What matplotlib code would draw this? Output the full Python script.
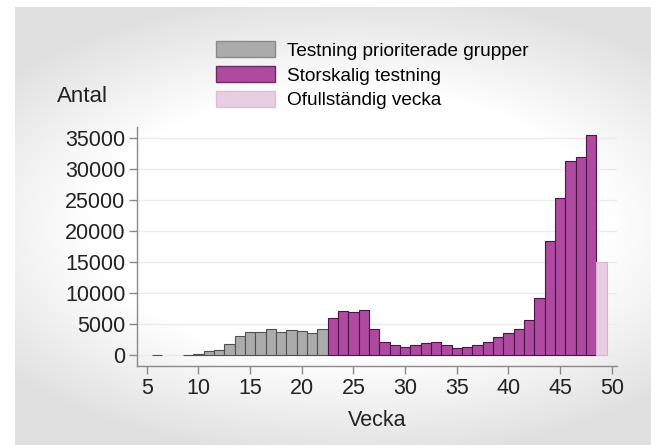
import numpy as np
import matplotlib.pyplot as plt
from matplotlib.patches import Patch

plt.rcParams['font.family'] = ['Liberation Sans', 'DejaVu Sans']

# Data (weeks 7-8 have no bar)
weeks_prio = [6, 9, 10, 11, 12, 13, 14, 15, 16, 17, 18, 19, 20, 21, 22]
cases_prio = [50, 60, 180, 700, 800, 1850, 3100, 3650, 3650, 4130, 3760, 4030, 3820, 3550, 4190]

weeks_large = list(range(23, 49))
cases_large = [5910, 7040, 6940, 7310, 4200, 2150, 1560, 1290, 1560, 1990, 2040, 1610, 1130,
               1290, 1560, 2040, 2900, 3550, 4250, 5590, 9140, 18390, 25320, 31340, 31880, 35430]

weeks_incomplete = [49]
cases_incomplete = [15000]

labels = ['Testning prioriterade grupper', 'Storskalig testning', 'Ofullständig vecka']
y_ticks = list(range(0, 35001, 5000))
x_ticks = list(range(5, 51, 5))

W, H = 651, 445
fig = plt.figure(figsize=(W / 100, H / 100), dpi=100)

# screenshot-like background: light grey vignette with white margin strips
bg = fig.add_axes([0, 0, 1, 1], zorder=-5)
yy, xx = np.mgrid[0:H, 0:W]
d = np.sqrt(((xx - 350) / 430.0) ** 2 + ((yy - 225) / 225.0) ** 2)
shade = 1.0 - 0.11 * np.clip(d - 0.6, 0, None) / 0.4
shade = np.clip(shade, 0.88, 1.0)
shade[:7, :] = 1.0
shade[:, :15] = 1.0
bg.imshow(np.dstack([shade] * 3), aspect='auto', extent=(0, 1, 0, 1))
bg.axis('off')

ax = fig.add_axes([136.7 / W, 1 - 365.7 / H, (617 - 136.7) / W, (365.7 - 126.7) / H])
ax.set_facecolor('none')

ax.bar(weeks_prio, cases_prio, width=1.0, color='#ababab', edgecolor='#505050', linewidth=0.8, zorder=3)
ax.bar(weeks_large, cases_large, width=1.0, color='#ae4ba0', edgecolor='#4c1446', linewidth=0.8, zorder=3)
ax.bar(weeks_incomplete, cases_incomplete, width=1.0, color='#e9cde3', edgecolor='#d8b6d0', linewidth=0.8, zorder=3)

ax.set_xlim(4.03, 50.5)
ax.set_ylim(-1730, 36820)
ax.set_yticks(y_ticks)
ax.set_yticklabels([str(v) for v in y_ticks])
ax.set_xticks(x_ticks)
ax.grid(axis='y', color='#ebebeb', linewidth=1.0, zorder=0)

for s in ['top', 'right']:
    ax.spines[s].set_visible(False)
for s in ['left', 'bottom']:
    ax.spines[s].set_color('#8a8a8a')
    ax.spines[s].set_linewidth(1.0)
ax.tick_params(axis='both', colors='#8a8a8a', labelcolor='#222222', labelsize=15.5, length=6, width=1.0)
ax.tick_params(axis='y', pad=2)
ax.tick_params(axis='x', pad=3)

fig.text(57 / W, 1 - 96 / H, 'Antal', fontsize=16, color='#222222', ha='left', va='center')
fig.text(377 / W, 1 - 420 / H, 'Vecka', fontsize=15.5, color='#222222', ha='center', va='center')

handles = [Patch(facecolor='#ababab', edgecolor='#8a8a8a'),
           Patch(facecolor='#ae4ba0', edgecolor='#6a2a60'),
           Patch(facecolor='#e9cde3', edgecolor='#dcc0d6')]
fig.legend(handles, labels, loc='upper left', bbox_to_anchor=(216 / W, 1 - 41 / H),
           frameon=False, fontsize=13.7, handlelength=3.1, handleheight=0.95,
           handletextpad=0.65, labelspacing=0.32, borderpad=0, borderaxespad=0)

fig.savefig('out.png', dpi=100)
